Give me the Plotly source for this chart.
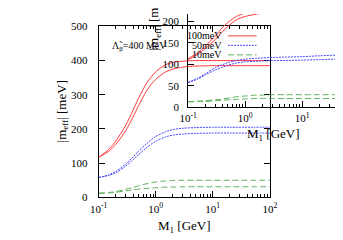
import plotly.graph_objects as go

# ---------------- data ----------------
M = [0.1, 0.15, 0.2, 0.3, 0.4, 0.5, 0.7, 1, 1.5, 2, 3, 5, 10, 20, 50, 100]

# main panel (y: 0-500)
red_main_hi   = [117, 140, 165, 212, 255, 290, 335, 367, 388, 395, 398, 400, 400, 400, 400, 400]
red_main_lo   = [117, 135, 155, 196, 235, 268, 313, 345, 367, 375, 381, 384, 385, 385, 385, 385]
blue_main_hi  = [58, 66, 76, 98, 118, 135, 158, 178, 192, 198, 202, 204, 205, 205, 205, 205]
blue_main_lo  = [58, 64, 72, 92, 110, 125, 146, 164, 177, 182, 185, 187, 188, 188, 188, 188]
green_main_hi = [12, 14, 17, 24, 29, 34, 40, 45, 48, 49, 50, 50, 50, 50, 50, 50]
green_main_lo = [12, 13, 15, 19, 22, 24, 26, 28, 30, 30, 31, 31, 31, 31, 31, 31]

# overlaid second panel (y: 0-400, partly visible)
red_b_hi   = [113, 128, 143, 166, 186, 198, 212, 220, 226, 230, 234, 238, 242, 246, 250, 252]
red_b_lo   = [111, 124, 137, 158, 176, 189, 204, 212, 217, 220, 224, 228, 232, 236, 240, 242]
blue_b_hi  = [58, 68, 78, 92, 99, 104, 109, 112, 114, 115, 116, 117, 118, 120, 122, 124]
blue_b_lo  = [57, 66, 75, 87, 93, 98, 103, 106, 107, 108, 109, 109, 110, 111, 113, 115]
green_b_hi = [13, 14, 15, 17, 19, 21, 24, 26, 28, 28, 29, 29, 29, 29, 29, 29]
green_b_lo = [12, 13, 13, 15, 16, 17, 18, 19, 20, 20, 20, 20, 20, 20, 20, 20]

legend_labels = ["100meV", "50meV", "10meV"]
x_tickvals = [0.1, 1, 10, 100]
x_ticktext = ["10<sup>-1</sup>", "10<sup>0</sup>", "10<sup>1</sup>", "10<sup>2</sup>"]
y_main_ticks = [0, 100, 200, 300, 400, 500]
y_b_ticks = [0, 50, 100, 150, 200]

# ---------------- styling ----------------
W, H = 343, 240
FONT = "Liberation Serif"
styles = {
    "red": dict(color="#ff3b3b", width=1, dash="solid"),
    "blue": dict(color="#4a4aff", width=1, dash="2px,1px"),
    "green": dict(color="#5fb05f", width=1, dash="6px,3px"),
}

minor_vals = [m * 10 ** e for e in (-1, 0, 1) for m in range(2, 10)]

def px_x(p):
    return p / W

def px_y(p):
    return (H - p) / H

fig = go.Figure()

main_series = [(red_main_hi, "red"), (red_main_lo, "red"),
               (blue_main_hi, "blue"), (blue_main_lo, "blue"),
               (green_main_hi, "green"), (green_main_lo, "green")]
for ys, c in main_series:
    fig.add_trace(go.Scatter(x=M, y=ys, mode="lines", line=dict(shape="spline", smoothing=0.8, **styles[c]),
                             xaxis="x", yaxis="y", showlegend=False, hoverinfo="skip"))

b_series = [(red_b_hi, "red"), (red_b_lo, "red"),
            (blue_b_hi, "blue"), (blue_b_lo, "blue"),
            (green_b_hi, "green"), (green_b_lo, "green")]
for ys, c in b_series:
    fig.add_trace(go.Scatter(x=M, y=ys, mode="lines", line=dict(shape="spline", smoothing=0.8, **styles[c]),
                             xaxis="x2", yaxis="y2", showlegend=False, hoverinfo="skip"))

axis_common = dict(showgrid=False, zeroline=False, showline=True, linecolor="black", linewidth=1,
                   ticks="inside", tickcolor="black", tickwidth=1,
                   tickfont=dict(family=FONT, size=11, color="black"))

fig.update_layout(
    width=W, height=H, autosize=False,
    margin=dict(l=0, r=0, t=0, b=0, pad=0),
    paper_bgcolor="white", plot_bgcolor="rgba(0,0,0,0)",
    showlegend=False,
    xaxis=dict(type="log", range=[-1, 2], domain=[px_x(86), px_x(266)], anchor="y",
               tickvals=x_tickvals, ticktext=x_ticktext, ticklen=6, mirror="allticks",
               minor=dict(ticks="inside", ticklen=3, tickvals=minor_vals, tickcolor="black", showgrid=False),
               ticklabelstandoff=1, **axis_common),
    yaxis=dict(range=[0, 500], domain=[px_y(193), px_y(13)], anchor="x",
               tickvals=y_main_ticks, ticklen=6, mirror="allticks",
               ticklabelstandoff=8, **axis_common),
    xaxis2=dict(type="log", range=[-1, -1 + 163 / 60], domain=[px_x(180), 1], anchor="y2",
                tickvals=x_tickvals, ticktext=x_ticktext, ticklen=6, mirror=False,
                minor=dict(ticks="inside", ticklen=3, tickvals=minor_vals, tickcolor="black", showgrid=False),
                ticklabelstandoff=1, **axis_common),
    yaxis2=dict(range=[0, 98 / 0.45], domain=[px_y(98), 1], anchor="x2",
                tickvals=y_b_ticks, ticklen=6, mirror=False,
                ticklabelstandoff=6, **axis_common),
)

ann_font = dict(family=FONT, size=13, color="black")
annotations = [
    dict(text="|m<sub>eff</sub>| [meV]", x=px_x(48), y=px_y(103), textangle=-90, font=ann_font),
    dict(text="|m<sub>eff</sub>| [meV]", x=px_x(145), y=px_y(6), textangle=-90, font=ann_font),
    dict(text="M<sub>1</sub> [GeV]", x=px_x(176), y=px_y(224), font=ann_font),
    dict(text="M<sub>1</sub> [GeV]", x=px_x(270), y=px_y(127), font=ann_font),
    dict(text="\u039b\u0303<sub>\u03b2</sub>=400 MeV", x=px_x(129), y=px_y(34),
         font=dict(family=FONT, size=10, color="black")),
]
leg_y = [23, 33, 43]
leg_colors = ["red", "blue", "green"]
for lab, yy in zip(legend_labels, leg_y):
    annotations.append(dict(text=lab, x=px_x(218), y=px_y(yy), xanchor="right",
                            font=dict(family=FONT, size=10, color="black")))
for c, yy in zip(leg_colors, leg_y):
    fig.add_shape(type="line", xref="paper", yref="paper", x0=px_x(222), x1=px_x(252),
                  y0=px_y(yy), y1=px_y(yy), line=styles[c])

for a in annotations:
    a.update(xref="paper", yref="paper", showarrow=False)
    a.setdefault("xanchor", "center")
    a.setdefault("yanchor", "middle")
fig.update_layout(annotations=annotations)

fig.write_html("out.html")
